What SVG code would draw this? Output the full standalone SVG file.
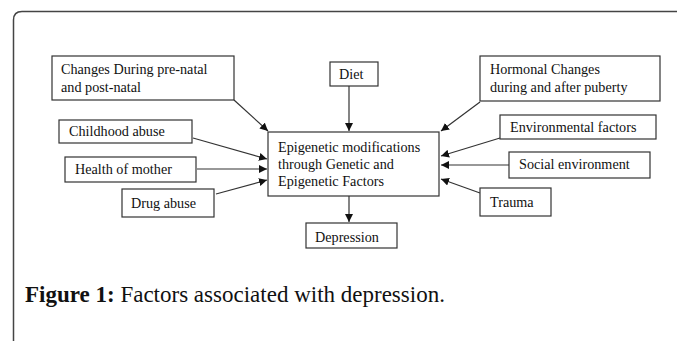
<svg xmlns="http://www.w3.org/2000/svg" width="677" height="341" viewBox="0 0 677 341">
<style>
.box{fill:#fff;stroke:#333;stroke-width:1.2}
.t{font-family:"Liberation Serif","Times New Roman",serif;font-size:14.2px;fill:#111}
.c{stroke:#333;stroke-width:1.2;fill:none;marker-end:url(#ah)}
.cap{font-family:"Liberation Serif","Times New Roman",serif;font-size:23px;fill:#111}
</style>
<defs>
<marker id="ah" viewBox="0 0 10 10" refX="10" refY="5" markerWidth="8" markerHeight="8" markerUnits="userSpaceOnUse" orient="auto">
<path d="M0,0 L10,5 L0,10 z" fill="#111"/>
</marker>
</defs>
<rect width="677" height="341" fill="#fff"/>
<path d="M13.5,341 L13.5,20 Q13.5,11.5 22,11.5 L677,11.5" fill="none" stroke="#444" stroke-width="1.5"/>
<g id="connectors">
<line class="c" x1="234" y1="100" x2="268" y2="131"/>
<line class="c" x1="349" y1="86" x2="349" y2="131"/>
<line class="c" x1="480" y1="102" x2="441" y2="131"/>
<line class="c" x1="193" y1="138" x2="267" y2="159"/>
<line class="c" x1="197" y1="169" x2="267" y2="169"/>
<line class="c" x1="216" y1="194" x2="267" y2="180"/>
<line class="c" x1="500" y1="138" x2="441" y2="156"/>
<line class="c" x1="509" y1="165" x2="441" y2="165"/>
<line class="c" x1="480" y1="193" x2="441" y2="179"/>
<line class="c" x1="349" y1="196" x2="349" y2="222"/>
</g>
<g id="prenatal"><rect class="box" x="52" y="56" width="182" height="44"/><text class="t" x="61" y="74">Changes During pre-natal</text><text class="t" x="61" y="92">and post-natal</text></g>
<g id="diet"><rect class="box" x="330" y="62" width="48" height="24"/><text class="t" x="339" y="79">Diet</text></g>
<g id="hormonal"><rect class="box" x="480" y="56" width="180" height="45"/><text class="t" x="490" y="74">Hormonal Changes</text><text class="t" x="490" y="92">during and after puberty</text></g>
<g id="childhood"><rect class="box" x="59" y="120" width="133" height="23"/><text class="t" x="69" y="136">Childhood abuse</text></g>
<g id="health"><rect class="box" x="65" y="157" width="131" height="25"/><text class="t" x="75" y="174">Health of mother</text></g>
<g id="drug"><rect class="box" x="122" y="189" width="92" height="28"/><text class="t" x="131" y="208">Drug abuse</text></g>
<g id="central"><rect class="box" x="268" y="132" width="171" height="64"/><text class="t" x="278" y="152">Epigenetic modifications</text><text class="t" x="278" y="169">through Genetic and</text><text class="t" x="278" y="186">Epigenetic Factors</text></g>
<g id="environmental"><rect class="box" x="500" y="115" width="156" height="24"/><text class="t" x="510" y="132">Environmental factors</text></g>
<g id="social"><rect class="box" x="509" y="152" width="141" height="26"/><text class="t" x="519" y="169">Social environment</text></g>
<g id="trauma"><rect class="box" x="480" y="188" width="71" height="28"/><text class="t" x="490" y="207">Trauma</text></g>
<g id="depression"><rect class="box" x="306" y="223" width="91" height="25"/><text class="t" x="315" y="242">Depression</text></g>
<text class="cap" x="25" y="302"><tspan font-weight="bold">Figure 1:</tspan> Factors associated with depression.</text>
</svg>
